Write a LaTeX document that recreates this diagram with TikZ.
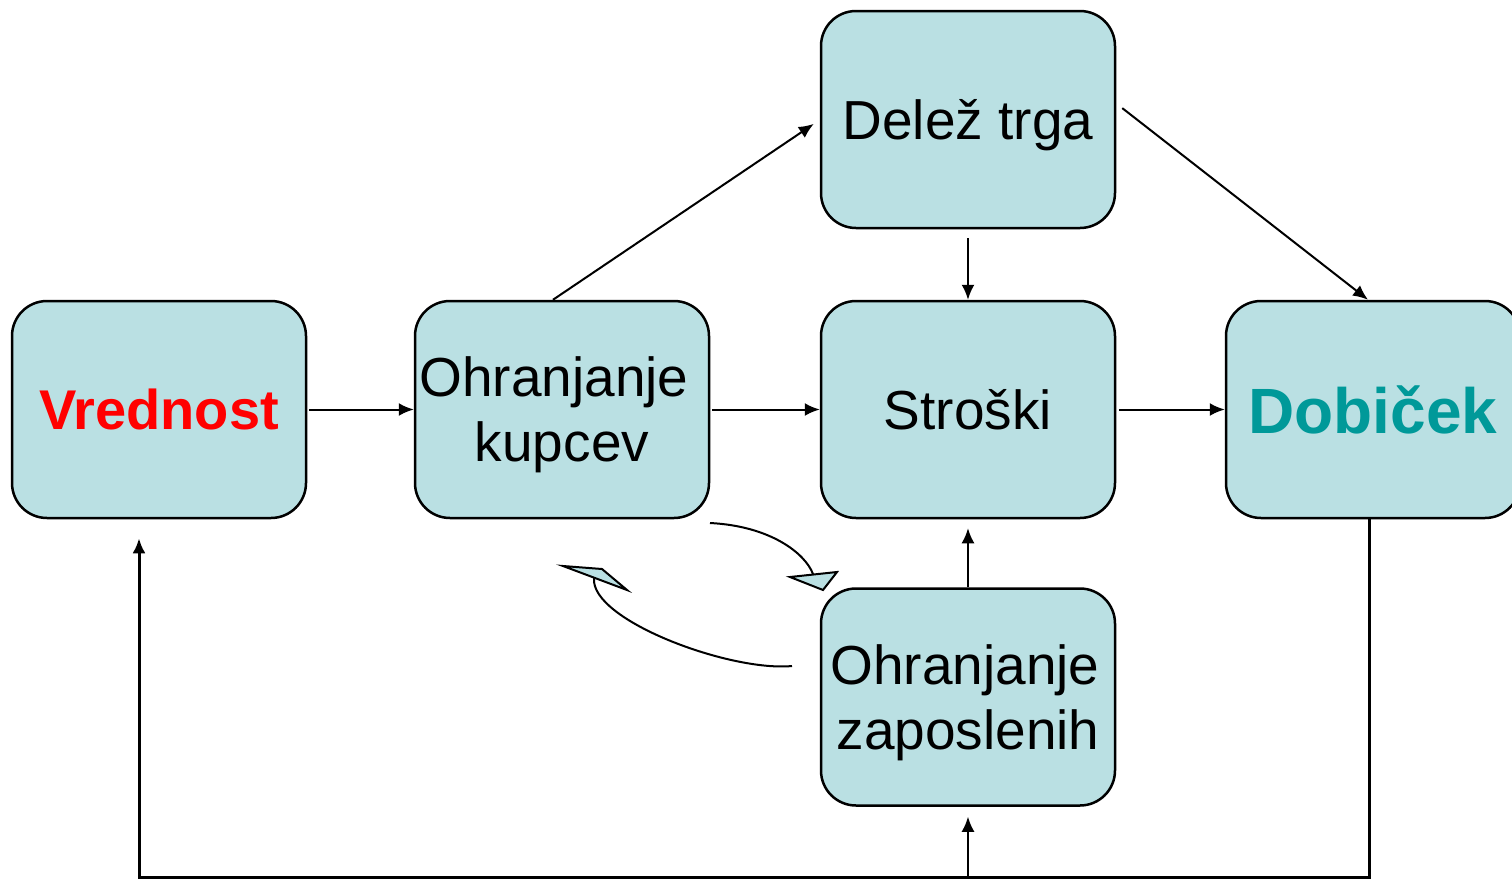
\documentclass[tikz,border=0pt]{standalone}
\usepackage{fontspec}
\setmainfont{Liberation Sans}
\usetikzlibrary{arrows.meta}
\definecolor{boxfill}{HTML}{BAE0E3}
\definecolor{valred}{HTML}{FF0000}
\definecolor{profit}{HTML}{009999}
\begin{document}
\begin{tikzpicture}[x=0.5pt,y=-0.5pt,
  blk/.style={draw=black, line width=1.25pt, fill=boxfill, rounded corners=17.5pt,
    minimum width=147pt, minimum height=108.5pt, align=center, inner sep=0pt,
    text depth=0pt, font=\fontsize{27.5}{32.5}\selectfont},
  link/.style={line width=1pt, -{Latex[length=7.5pt,width=6.5pt]}},
  loopline/.style={line width=1.5pt},
  curveline/.style={line width=1pt},
  curvehead/.style={draw=black, line width=1pt, fill=boxfill, line join=miter}]
\useasboundingbox (0,0) rectangle (1512,879);
\clip (0,0) rectangle (1512,879);

% boxes
\node[blk, font=\fontsize{28}{32}\selectfont\bfseries, text=valred] (v) at (159,409.5) {Vrednost};
\node[blk] (k) at (562,409.5) {{Ohranjanje\kern 8pt}\\kupcev};
\node[blk] (d) at (968,119.5) {Delež trga};
\node[blk] (s) at (968,409.5) {Stroški};
\node[blk, font=\fontsize{32}{36}\selectfont\bfseries, text=profit] (p) at (1373,409.5) {Dobiček};
\node[blk] (z) at (968,697) {{Ohranjanje\kern 3pt}\\zaposlenih};

% straight links
\draw[link, shorten <=1pt] (v.east) -- (k.west);
\draw[link, shorten <=1pt] (k.east) -- (s.west);
\draw[link, shorten <=1.5pt] (s.east) -- (p.west);
\draw[link] ([xshift=-4.5pt]k.north) -- ([xshift=-3pt,yshift=-2.2pt]d.west);
\draw[link] ([xshift=3pt,yshift=5.7pt]d.east) -- ([xshift=-2.5pt]p.north);
\draw[link, shorten <=4.5pt] (d.south) -- (s.north);
\draw[link, shorten >=4.5pt] (z.north) -- (s.south);

% feedback loop along the bottom
\coordinate (base) at (0,877);
\draw[loopline, -{Latex[length=7.5pt,width=6.5pt]}, shorten >=9.5pt]
  ([xshift=-2pt]p.south) |- ([xshift=-10pt]v.south |- base) -- ([xshift=-10pt]v.south);
\draw[link, shorten >=5pt] (z.south |- base) -- (z.south);

% curved arrows between the two retention boxes
\draw[curveline] (710,523) .. controls (770,526) and (805,553) .. (813,574);
\draw[curvehead] (790,577) -- (837,572) -- (823,590) -- cycle;
\draw[curveline] (792,666) .. controls (730,672) and (590,620) .. (594,578);
\draw[curvehead] (563,566) -- (602,569) -- (627,590) -- cycle;
\end{tikzpicture}
\end{document}
